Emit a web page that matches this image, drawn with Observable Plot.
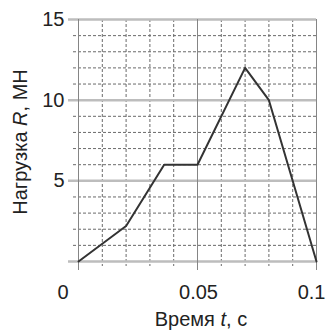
<!DOCTYPE html>
<html><head><meta charset="utf-8">
<script src="https://cdn.jsdelivr.net/npm/d3@7"></script>
<script src="https://cdn.jsdelivr.net/npm/@observablehq/plot@0.6"></script>
<style>body{margin:0;background:#fff} svg{display:block}</style>
</head><body><div id="chart"></div>
<script>
const timeS = [0, 0.02, 0.036, 0.05, 0.07, 0.08, 0.1];
const loadMN = [0, 2.2, 6, 6, 12, 10, 0];
const xMajorTicks = [0, 0.05, 0.1];
const xMinorTicks = [0.01, 0.02, 0.03, 0.04, 0.06, 0.07, 0.08, 0.09];
const yMajorTicks = [0, 5, 10, 15];
const yMinorTicks = [1, 2, 3, 4, 6, 7, 8, 9, 11, 12, 13, 14];
const yLabelTicks = [5, 10, 15];
const xLabelFirst = [0];
const xLabelMid = [0.05];
const xLabelLast = [0.1];
const xTitle = ["Время ", "t", ", с"];
const yTitle = ["Нагрузка ", "R", ", МН"];

const points = timeS.map((t, i) => ({t, r: loadMN[i]}));
const font = "Liberation Sans, Arial, sans-serif";
const fmt = d => String(d);

const plot = Plot.plot({
  width: 326, height: 330,
  marginLeft: 78, marginRight: 10, marginTop: 19, marginBottom: 69,
  style: {fontFamily: font, fontSize: "20px", color: "#222", background: "#fff"},
  x: {domain: [0, 0.1]},
  y: {domain: [0, 15]},
  marks: [
    Plot.ruleY(yMinorTicks, {stroke: "#6a6a6a", strokeWidth: 1, strokeDasharray: "3,2", insetLeft: -5}),
    Plot.ruleX(xMinorTicks, {stroke: "#6a6a6a", strokeWidth: 1, strokeDasharray: "3,2", insetBottom: -5}),
    Plot.ruleY(yMajorTicks, {stroke: "#bdbdbd", strokeWidth: 2.5, insetLeft: -10}),
    Plot.ruleX(xMajorTicks, {stroke: "#858585", strokeWidth: 1, insetBottom: -9}),
    Plot.line(points, {x: "t", y: "r", stroke: "#333", strokeWidth: 2}),
    Plot.axisY(yLabelTicks, {tickSize: 0, tickPadding: 14, tickFormat: fmt, label: null, fontSize: 20}),
    Plot.axisX(xLabelFirst, {tickSize: 0, tickPadding: 23, tickFormat: fmt, label: null, textAnchor: "end", dx: -10, fontSize: 20}),
    Plot.axisX(xLabelMid, {tickSize: 0, tickPadding: 23, tickFormat: fmt, label: null, dx: 1, fontSize: 20}),
    Plot.axisX(xLabelLast, {tickSize: 0, tickPadding: 23, tickFormat: fmt, label: null, textAnchor: "end", dx: 9, fontSize: 20})
  ]
});

const svg = d3.select(plot);
const xt = svg.append("text")
  .attr("x", 201).attr("y", 326)
  .attr("text-anchor", "middle")
  .attr("font-family", font).attr("font-size", 20).attr("fill", "#222");
xTitle.forEach((s, i) => xt.append("tspan").attr("font-style", i === 1 ? "italic" : null).text(s));
const yt = svg.append("text")
  .attr("transform", "translate(27,142) rotate(-90)")
  .attr("text-anchor", "middle")
  .attr("font-family", font).attr("font-size", 20).attr("fill", "#222");
yTitle.forEach((s, i) => yt.append("tspan").attr("font-style", i === 1 ? "italic" : null).text(s));

document.getElementById("chart").appendChild(plot);
</script>
</body></html>
